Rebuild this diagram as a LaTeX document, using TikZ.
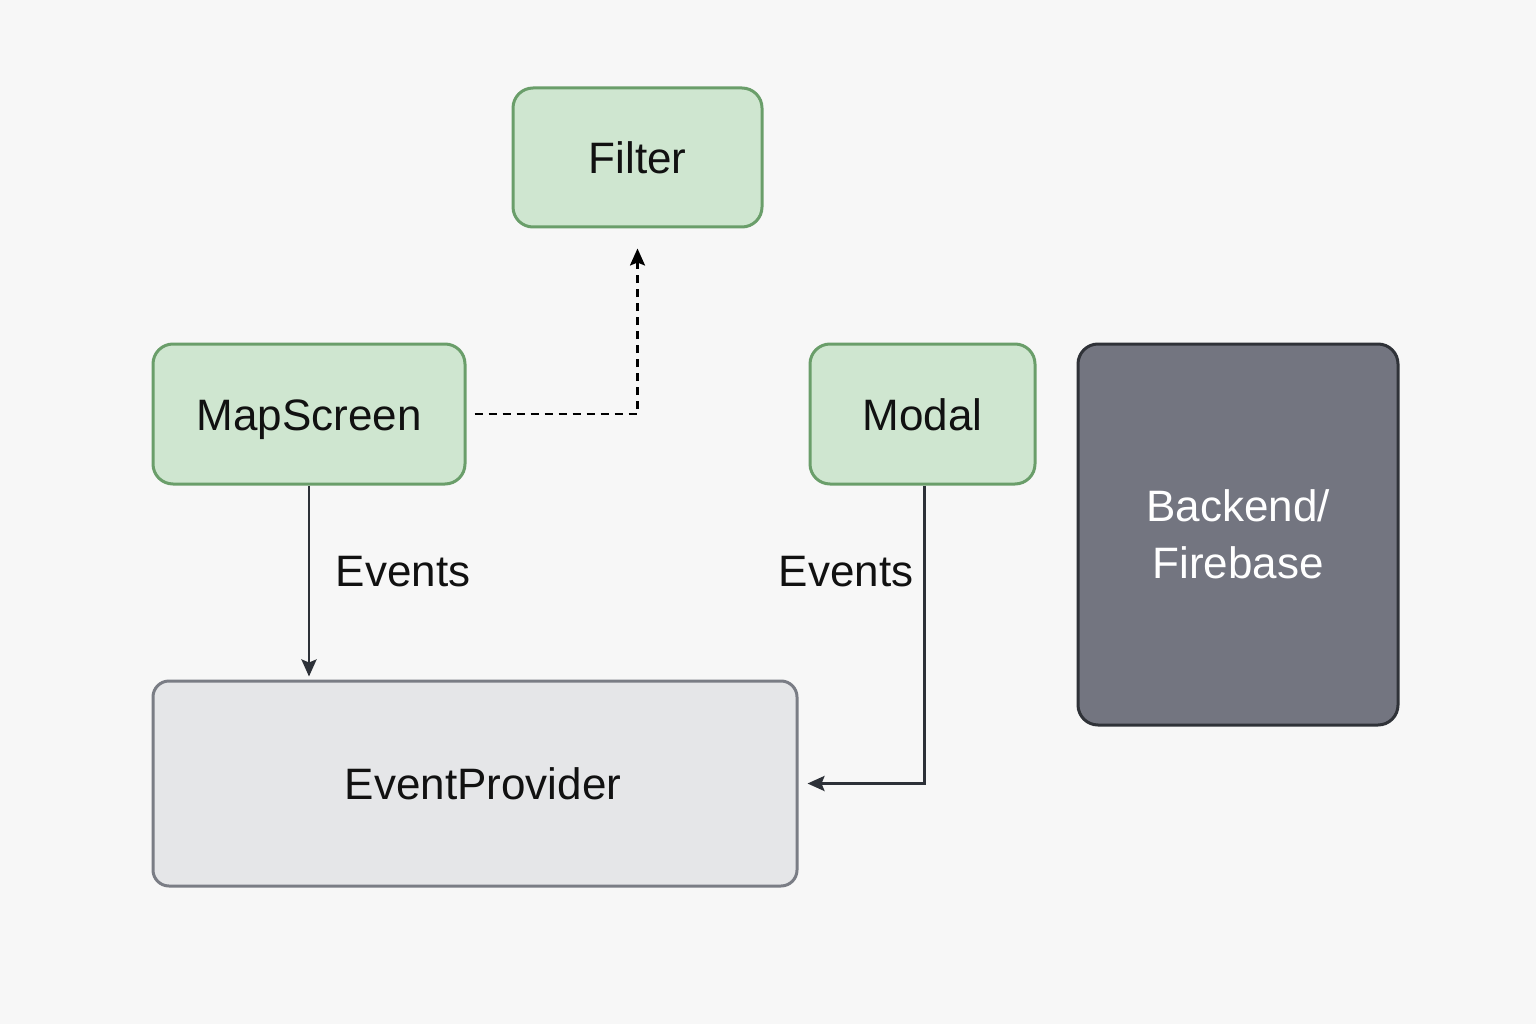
\documentclass[tikz,border=0pt]{standalone}
\usepackage{fontspec}
\setmainfont{Liberation Sans}
\usetikzlibrary{arrows.meta}
\definecolor{bg}{HTML}{F7F7F7}
\definecolor{gfill}{HTML}{CFE6D0}
\definecolor{gline}{HTML}{6A9E6A}
\definecolor{pfill}{HTML}{E5E6E8}
\definecolor{pline}{HTML}{7A7D85}
\definecolor{bfill}{HTML}{737580}
\definecolor{bline}{HTML}{2F3238}
\definecolor{ink}{HTML}{111111}
\definecolor{arrowc}{HTML}{2D3138}
\tikzset{
  txt/.style={font=\fontsize{44}{57}\selectfont, text=ink},
  oneline/.style={text height=32pt, text depth=0pt},
  greenbox/.style={txt, oneline, draw=gline, fill=gfill, line width=3pt, rounded corners=20pt, inner sep=0pt},
  provbox/.style={txt, oneline, draw=pline, fill=pfill, line width=3pt, rounded corners=16pt, inner sep=0pt},
  backbox/.style={txt, text=white, draw=bline, fill=bfill, line width=3pt, rounded corners=20pt, inner sep=0pt, align=center},
  arr/.style={draw=arrowc, line width=2.8pt, -{Stealth[length=17pt,width=15pt,inset=3pt]}},
  dasharr/.style={draw=black, line width=2.4pt, dash pattern=on 8pt off 6pt, -{Stealth[length=17pt,width=15pt,inset=3pt]}},
}
\begin{document}
\begin{tikzpicture}[x=1pt,y=-1pt]
\fill[bg] (0,0) rectangle (1536,1024);
\useasboundingbox (0,0) rectangle (1536,1024);
\node[greenbox, minimum width=249pt, minimum height=139pt] (filter) at (637.5,157.5) {Filter};
\node[greenbox, minimum width=312pt, minimum height=140pt] (map) at (309,414) {MapScreen};
\node[greenbox, minimum width=225pt, minimum height=140pt] (modal) at (922.5,414) {Modal};
\node[backbox, minimum width=320pt, minimum height=381pt] (back) at (1238,534.5) {Backend/\\Firebase};
\node[provbox, minimum width=644pt, minimum height=205pt] (ep) at (475,783.5) {\hspace*{16pt}EventProvider};
\node[txt, oneline] (lbl1) at (403,570) {Events};
\node[txt, oneline] (lbl2) at (846,570) {Events};
\draw[dasharr, shorten <=8pt, shorten >=20pt] (map.east) -- (map.east -| filter.south) -- (filter.south);
\draw[arr, shorten >=3pt] (map.south) -- (map.south |- ep.north);
\draw[arr, shorten >=9pt] ([xshift=2pt]modal.south) |- (ep.east);
\end{tikzpicture}
\end{document}
